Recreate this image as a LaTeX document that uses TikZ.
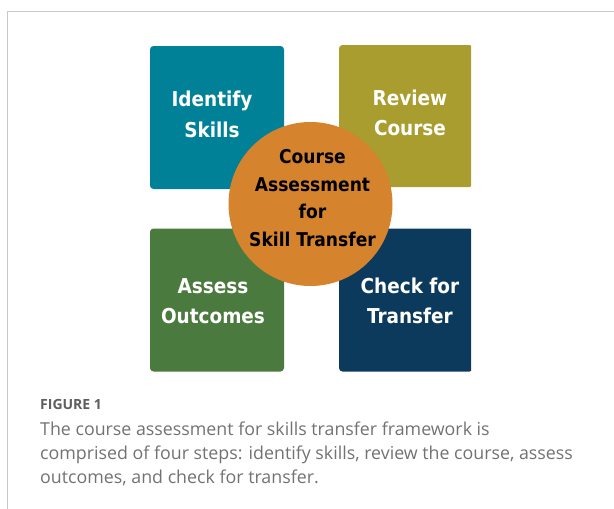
\documentclass[tikz,border=0pt]{standalone}
\usepackage{fontspec}
\setmainfont{Open Sans}
\newfontfamily\boxfont{DejaVu Sans Condensed}
\usepackage{tikz}
\usetikzlibrary{positioning}
\definecolor{IdentifyTeal}{HTML}{008197}
\definecolor{ReviewOlive}{HTML}{A99D2F}
\definecolor{AssessGreen}{HTML}{4B7A3E}
\definecolor{CheckNavy}{HTML}{0C3A5D}
\definecolor{HubOrange}{HTML}{D5832D}
\definecolor{FrameGrey}{HTML}{C9C9C9}
\definecolor{CaptionGrey}{HTML}{727272}
\definecolor{LabelGrey}{HTML}{5E5E5E}
\tikzset{
  stepbox/.style={rectangle, rounded corners=3.5pt, minimum width=134pt, minimum height=143pt, inner sep=0pt},
  steplabel/.style={text=white, font=\boxfont\bfseries\fontsize{20.5}{30.5}\selectfont, align=center, inner sep=0pt},
  hub/.style={circle, fill=HubOrange, minimum size=164pt, inner sep=0pt},
  hublabel/.style={text=black, font=\boxfont\bfseries\fontsize{19}{27.5}\selectfont, align=center, inner sep=0pt},
}

\begin{document}
\begin{tikzpicture}[x=1pt, y=-1pt]
        \useasboundingbox (0,0) rectangle (614,509);
        % panel frame
        \draw [FrameGrey, line width=1.2pt] (7.5,509) -- (7.5,11.5) -- (614,11.5);

        % four steps
        \node [stepbox, fill=IdentifyTeal] (identify) at (217,117.5) {};
        \node [stepbox, fill=AssessGreen] (assess) at (217,300) {};
        \begin{scope}
            \clip (0,0) rectangle (471,509);
            \node [stepbox, fill=ReviewOlive, minimum height=142pt] (review) at (406,116) {};
            \node [stepbox, fill=CheckNavy] (check) at (406,300) {};
        \end{scope}

        \node [steplabel] (identifyText) at ([xshift=-5pt,yshift=3pt]identify.center) {Identify\\Skills};
        \node [steplabel] (reviewText) at ([xshift=4pt,yshift=3pt]review.center) {Review\\Course};
        \node [steplabel] (assessText) at ([xshift=-4pt,yshift=-1pt]assess.center) {Assess\\Outcomes};
        \node [steplabel] (checkText) at ([xshift=4pt,yshift=-1pt]check.center) {Check for\\Transfer};

        % centre circle
        \node [hub] (hub) at (310.5,204) {};
        \node [hublabel] (hubText) at ([xshift=2pt,yshift=6pt]hub.center) {Course\\Assessment\\for\\Skill Transfer};

        % caption
        \node [anchor=west, inner sep=0pt, text=LabelGrey, font=\bfseries\fontsize{14}{16}\selectfont] (figLabel) at (40,404) {FIGURE 1};
        \node [anchor=north west, inner sep=0pt, text=CaptionGrey, align=left, font=\fontsize{17.8}{24}\selectfont] (caption) at (40,422)
            {The course assessment for skills transfer framework is\\
             comprised of four steps: identify skills, review the course, assess\\
             outcomes, and check for transfer.};
\end{tikzpicture}
\end{document}
